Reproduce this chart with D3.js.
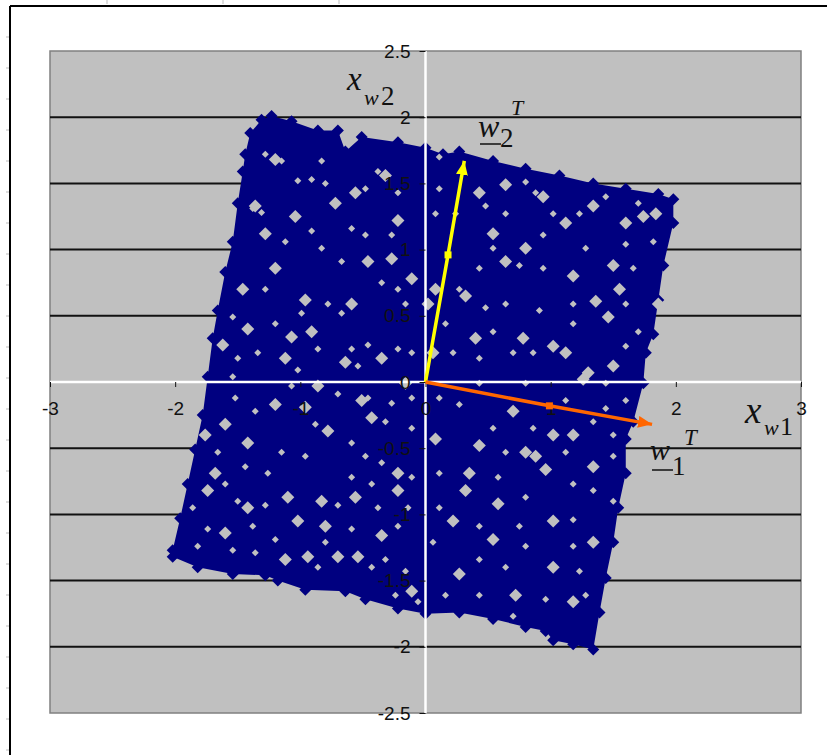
<!DOCTYPE html>
<html>
<head>
<meta charset="utf-8">
<script src="https://cdn.jsdelivr.net/npm/d3@7"></script>
<style>
  body { margin: 0; background: #fff; }
  svg { display: block; }
  .lbl { font-family: "Liberation Serif", "Times New Roman", serif; fill: #111; }
</style>
</head>
<body>
<svg id="chart" width="827" height="755"></svg>
<script>
// axis ticks
const xTicks = [-3, -2, -1, 0, 1, 2, 3];
const yTicks = [-2.5, -2, -1.5, -1, -0.5, 0, 0.5, 1, 1.5, 2, 2.5];

// outline of the whitened data cloud (x_w1, x_w2)
const cloudOutline = [
  [0.00, 1.77], [0.14, 1.72], [0.27, 1.74], [0.54, 1.67], [0.80, 1.61], [1.07, 1.56],
  [1.34, 1.50], [1.60, 1.46], [1.86, 1.42], [1.98, 1.38], [1.98, 1.20], [1.90, 0.88],
  [1.86, 0.62], [1.82, 0.36], [1.76, 0.22], [1.74, -0.01], [1.66, -0.30], [1.60, -0.43],
  [1.60, -0.69], [1.54, -0.95], [1.50, -1.21], [1.44, -1.48], [1.39, -1.74], [1.34, -2.02],
  [1.18, -1.98], [1.02, -1.95], [0.96, -1.88], [0.80, -1.85], [0.54, -1.79], [0.27, -1.74],
  [0.00, -1.75], [-0.22, -1.71], [-0.48, -1.64], [-0.64, -1.58], [-0.96, -1.57], [-1.18, -1.50],
  [-1.28, -1.46], [-1.54, -1.45], [-1.82, -1.40], [-2.02, -1.32], [-2.02, -1.27], [-1.96, -1.03],
  [-1.90, -0.77], [-1.84, -0.51], [-1.78, -0.25], [-1.74, 0.04], [-1.70, 0.33], [-1.66, 0.54],
  [-1.60, 0.83], [-1.54, 1.06], [-1.50, 1.35], [-1.46, 1.59], [-1.44, 1.72], [-1.40, 1.88],
  [-1.31, 1.98], [-1.23, 2.01], [-1.07, 1.97], [-0.86, 1.90], [-0.70, 1.90], [-0.64, 1.74],
  [-0.51, 1.85], [-0.22, 1.81]
];

// bigger empty patches inside the cloud
const cloudGaps = [
  [-0.46, 0.91], [-0.27, 0.93], [-1.07, 0.34], [-1.42, 0.40], [-1.04, 1.25], [-0.72, 1.35],
  [-1.20, 1.68], [-1.28, 1.12], [-1.20, 0.86], [-0.96, 0.62], [-0.78, -0.37], [-1.60, -0.32],
  [-1.20, -0.17], [-0.51, -0.14], [-1.10, -0.87], [-0.83, -0.90], [-0.56, -0.87], [-1.60, -1.14],
  [-1.02, -1.05], [-0.70, -1.32], [-0.54, -1.32], [-0.94, -1.32], [-1.12, -1.34], [-0.35, -1.16],
  [-0.22, -0.82], [-0.11, -1.58], [-0.11, 0.78], [-0.35, 0.18], [-0.59, 0.59], [-0.91, 0.38],
  [-1.62, 0.28], [-1.46, 0.70], [-1.36, 1.33], [-0.56, 1.43], [-0.32, 1.56], [-0.96, -0.19],
  [-0.43, -0.27], [-0.22, -0.69], [-1.74, -0.82], [-1.42, -0.95], [-1.68, -0.69], [-0.80, -1.09],
  [-1.42, -0.46], [-1.12, 0.18], [-0.64, 0.15], [-0.86, -0.03], [-0.22, 1.22], [-0.16, -0.01],
  [-1.76, -0.40],
  [1.18, 0.80], [0.78, 0.33], [0.54, 1.12], [0.70, -0.22], [0.32, 0.65], [1.02, 0.27],
  [1.12, 0.22], [1.36, 0.61], [1.74, 1.25], [1.84, 1.27], [1.50, 0.88], [0.80, 1.01],
  [0.64, 0.91], [0.08, 0.70], [0.02, 0.59], [1.55, 0.70], [1.50, 0.12], [1.30, 0.07],
  [0.08, -0.43], [1.02, -0.40], [1.18, -0.40], [0.80, -0.53], [1.34, -0.64], [0.32, -0.82],
  [0.58, -0.92], [1.02, -1.05], [1.34, -1.21], [0.22, -1.05], [0.72, -1.61], [1.02, -1.40],
  [0.27, -1.45], [1.18, -1.66], [0.54, -1.19], [0.96, -0.66], [0.43, -0.48], [0.40, 0.33],
  [0.35, -0.69], [0.88, -0.56], [1.60, 1.20], [1.12, 1.20], [0.94, 1.40], [0.64, 1.49],
  [0.43, 1.43], [1.34, 1.33], [1.86, 0.59], [1.46, 0.49], [0.06, 0.22], [1.26, 0.02]
];

// small specks inside the cloud
const cloudSpecks = [
  [-1.28, 1.72], [-1.15, 1.67], [-0.83, 1.67], [-1.02, 1.52], [-0.91, 1.53], [-0.80, 1.50],
  [-0.48, 1.46], [-0.38, 1.59], [-0.22, 1.43], [-1.38, 1.31], [-1.31, 1.28], [-1.12, 1.06],
  [-0.91, 1.14], [-0.83, 1.01], [-0.59, 1.16], [-0.48, 1.11], [-0.27, 1.11], [-0.67, 0.91],
  [-0.35, 0.75], [-0.22, 0.70], [-0.16, 0.59], [-0.78, 0.59], [-0.67, 0.52], [-1.28, 0.70],
  [-1.54, 0.49], [-1.20, 0.44], [-0.99, 0.52], [-0.86, 0.25], [-0.59, 0.25], [-0.46, 0.28],
  [-0.22, 0.25], [-0.11, 0.22], [-1.50, 0.18], [-1.34, 0.22], [-1.02, 0.09], [-0.54, 0.12],
  [-1.54, 0.04], [-1.07, -0.03], [-0.70, -0.09], [-0.46, -0.12], [-0.27, -0.16], [-0.11, -0.12],
  [-1.52, -0.12], [-1.36, -0.22], [-0.88, -0.32], [-0.59, -0.46], [-0.32, -0.30], [-0.11, -0.35],
  [-1.66, -0.53], [-1.15, -0.53], [-0.96, -0.56], [-0.48, -0.56], [-0.35, -0.61], [-1.44, -0.64],
  [-1.26, -0.69], [-1.60, -0.77], [-0.59, -0.72], [-0.43, -0.77], [-0.11, -0.72], [-1.50, -0.90],
  [-1.28, -0.93], [-0.70, -0.93], [-0.38, -0.95], [-0.14, -0.95], [-1.86, -0.95], [-1.74, -1.11],
  [-1.38, -1.09], [-1.20, -1.19], [-0.59, -1.11], [-0.22, -1.09], [-1.82, -1.24], [-1.54, -1.27],
  [-1.36, -1.29], [-0.80, -1.21], [-0.32, -1.34], [-0.16, -1.43], [-0.43, -1.40], [-0.86, -1.40],
  [-0.24, -1.61], [-0.06, -1.66],
  [0.11, 1.70], [0.11, 1.46], [0.80, 1.51], [0.88, 1.43], [1.02, 1.27], [1.23, 1.27],
  [1.44, 1.40], [1.70, 1.35], [0.48, 1.33], [0.24, 1.27], [0.08, 1.27], [0.64, 1.27],
  [0.54, 1.01], [0.94, 1.11], [1.28, 1.01], [1.60, 1.04], [1.82, 1.06], [0.43, 0.86],
  [0.75, 0.88], [0.94, 0.86], [1.66, 0.86], [0.27, 0.70], [0.48, 0.56], [0.64, 0.59],
  [0.91, 0.54], [1.18, 0.59], [1.60, 0.59], [0.16, 0.44], [0.54, 0.38], [1.18, 0.44],
  [1.70, 0.38], [0.22, 0.22], [0.43, 0.18], [0.70, 0.22], [0.86, 0.22], [1.60, 0.27],
  [0.43, -0.01], [0.80, -0.01], [1.44, -0.01], [0.11, -0.12], [0.27, -0.17], [1.12, -0.14],
  [1.44, -0.20], [1.60, -0.14], [0.54, -0.35], [0.86, -0.35], [1.34, -0.30], [1.50, -0.40],
  [0.64, -0.53], [1.12, -0.53], [1.50, -0.56], [0.11, -0.69], [0.58, -0.72], [1.18, -0.77],
  [1.34, -0.82], [0.80, -0.87], [1.50, -0.90], [0.11, -0.95], [0.75, -1.09], [1.18, -1.04],
  [0.43, -1.09], [0.06, -1.21], [0.80, -1.24], [1.18, -1.24], [0.43, -1.34], [0.64, -1.40],
  [1.23, -1.43], [0.16, -1.61], [0.43, -1.61], [0.96, -1.64], [1.28, -1.61], [0.70, -1.77]
];

// eigenvector arrows: origin, unit point, arrow tip
const w1Vector = [[0, 0], [0.99, -0.18], [1.81, -0.32]];
const w2Vector = [[0, 0], [0.18, 0.96], [0.31, 1.67]];

const svg = d3.select("#chart");
const plot = { left: 50, top: 51, right: 801, bottom: 713 };

const x = d3.scaleLinear().domain([-3, 3]).range([plot.left, plot.right]);
const y = d3.scaleLinear().domain([-2.5, 2.5]).range([plot.bottom, plot.top]);

// sheet frame
svg.append("line").attr("x1", 10).attr("x2", 827).attr("y1", 6).attr("y2", 6)
  .attr("stroke", "#000").attr("stroke-width", 2);
svg.append("line").attr("x1", 10).attr("x2", 10).attr("y1", 6).attr("y2", 755)
  .attr("stroke", "#000").attr("stroke-width", 2);
[107, 223, 339].forEach(function (c) {
  svg.append("line").attr("x1", c).attr("x2", c).attr("y1", 0).attr("y2", 4).attr("stroke", "#bbb");
});
for (let r = 37; r < 755; r += 31) {
  svg.append("line").attr("x1", 6).attr("x2", 9).attr("y1", r).attr("y2", r).attr("stroke", "#bbb");
}

// plot area
svg.append("rect")
  .attr("x", plot.left).attr("y", plot.top)
  .attr("width", plot.right - plot.left).attr("height", plot.bottom - plot.top)
  .attr("fill", "#c0c0c0").attr("stroke", "#808080").attr("stroke-width", 1.5);

// horizontal gridlines
svg.append("g").selectAll("line")
  .data(yTicks.filter(function (d) { return d !== 0 && Math.abs(d) < 2.5; }))
  .enter().append("line")
  .attr("x1", plot.left).attr("x2", plot.right)
  .attr("y1", function (d) { return y(d); }).attr("y2", function (d) { return y(d); })
  .attr("stroke", "#111").attr("stroke-width", 2);

// data cloud
const diamond = function (h) {
  return function (d) {
    const cx = x(d[0]), cy = y(d[1]);
    return "M" + cx + "," + (cy - h) + "L" + (cx + h) + "," + cy + "L" + cx + "," + (cy + h) + "L" + (cx - h) + "," + cy + "Z";
  };
};

const cloud = svg.append("g").attr("class", "cloud");
cloud.append("path")
  .datum(cloudOutline)
  .attr("d", d3.line().x(function (d) { return x(d[0]); }).y(function (d) { return y(d[1]); }).curve(d3.curveLinearClosed))
  .attr("fill", "#000080");
cloud.selectAll(".edge")
  .data(cloudOutline)
  .enter().append("path")
  .attr("class", "edge")
  .attr("d", diamond(6))
  .attr("fill", "#000080");
cloud.selectAll(".gap")
  .data(cloudGaps)
  .enter().append("path")
  .attr("class", "gap")
  .attr("d", diamond(6.5))
  .attr("fill", "#c0c0c0");
cloud.selectAll(".speck")
  .data(cloudSpecks)
  .enter().append("path")
  .attr("class", "speck")
  .attr("d", diamond(3.5))
  .attr("fill", "#c0c0c0");

// axis lines through the origin
svg.append("line").attr("x1", plot.left).attr("x2", plot.right)
  .attr("y1", y(0)).attr("y2", y(0)).attr("stroke", "#fff").attr("stroke-width", 2.5);
svg.append("line").attr("x1", x(0)).attr("x2", x(0))
  .attr("y1", plot.top).attr("y2", plot.bottom).attr("stroke", "#fff").attr("stroke-width", 2.5);

// ticks + labels
const fmt = function (d) { return String(d); };
const yAxis = svg.append("g")
  .attr("transform", "translate(" + x(0) + ",0)")
  .call(d3.axisLeft(y).tickValues(yTicks).tickSize(6).tickPadding(9).tickFormat(fmt));
const xAxis = svg.append("g")
  .attr("transform", "translate(0," + y(0) + ")")
  .call(d3.axisBottom(x).tickValues(xTicks).tickSize(5).tickPadding(15).tickFormat(fmt));
[yAxis, xAxis].forEach(function (a) {
  a.attr("font-family", "'Liberation Sans', Arial, sans-serif").attr("font-size", 19);
  a.select(".domain").remove();
  a.selectAll(".tick line").attr("stroke", "#111");
  a.selectAll(".tick text").attr("fill", "#111");
});

// arrows
const defs = svg.append("defs");
function arrowHead(id, color) {
  defs.append("marker")
    .attr("id", id)
    .attr("viewBox", "0 0 14 12")
    .attr("refX", 14).attr("refY", 6)
    .attr("markerWidth", 14).attr("markerHeight", 12)
    .attr("markerUnits", "userSpaceOnUse")
    .attr("orient", "auto")
    .append("path").attr("d", "M0,0L14,6L0,12Z").attr("fill", color);
}
arrowHead("headYellow", "#ffff00");
arrowHead("headOrange", "#ff6600");

function drawVector(pts, color, head) {
  svg.append("path")
    .datum(pts)
    .attr("d", d3.line().x(function (d) { return x(d[0]); }).y(function (d) { return y(d[1]); }))
    .attr("fill", "none").attr("stroke", color).attr("stroke-width", 3.5)
    .attr("marker-end", "url(#" + head + ")");
  svg.append("rect")
    .attr("x", x(pts[1][0]) - 3.5).attr("y", y(pts[1][1]) - 3.5)
    .attr("width", 7).attr("height", 7).attr("fill", color);
}
drawVector(w2Vector, "#ffff00", "headYellow");
drawVector(w1Vector, "#ff6600", "headOrange");

// math labels
function sub(parent, str, opts) {
  const t = parent.append("text").attr("class", "lbl")
    .attr("x", opts.x).attr("y", opts.y)
    .attr("font-size", opts.size + "px").text(str);
  if (opts.italic) t.attr("font-style", "italic");
  return t;
}
const labels = svg.append("g");
// x_w2
sub(labels, "x", { x: 347, y: 90, size: 33, italic: true });
sub(labels, "w", { x: 364, y: 105, size: 22, italic: true });
sub(labels, "2", { x: 381, y: 105, size: 27 });
// x_w1
sub(labels, "x", { x: 745, y: 423, size: 37, italic: true });
sub(labels, "w", { x: 764, y: 435, size: 22, italic: true });
sub(labels, "1", { x: 780, y: 435, size: 26 });
// w_2^T
sub(labels, "w", { x: 478, y: 137, size: 32, italic: true });
sub(labels, "2", { x: 500, y: 147, size: 27 });
sub(labels, "T", { x: 511, y: 115, size: 22, italic: true });
labels.append("line").attr("x1", 480).attr("x2", 501).attr("y1", 144).attr("y2", 144)
  .attr("stroke", "#111").attr("stroke-width", 1.5);
// w_1^T
sub(labels, "w", { x: 650, y: 460, size: 30, italic: true });
sub(labels, "1", { x: 672, y: 475, size: 27 });
sub(labels, "T", { x: 684, y: 445, size: 23, italic: true });
labels.append("line").attr("x1", 652).attr("x2", 673).attr("y1", 470).attr("y2", 470)
  .attr("stroke", "#111").attr("stroke-width", 1.5);
</script>
</body>
</html>
